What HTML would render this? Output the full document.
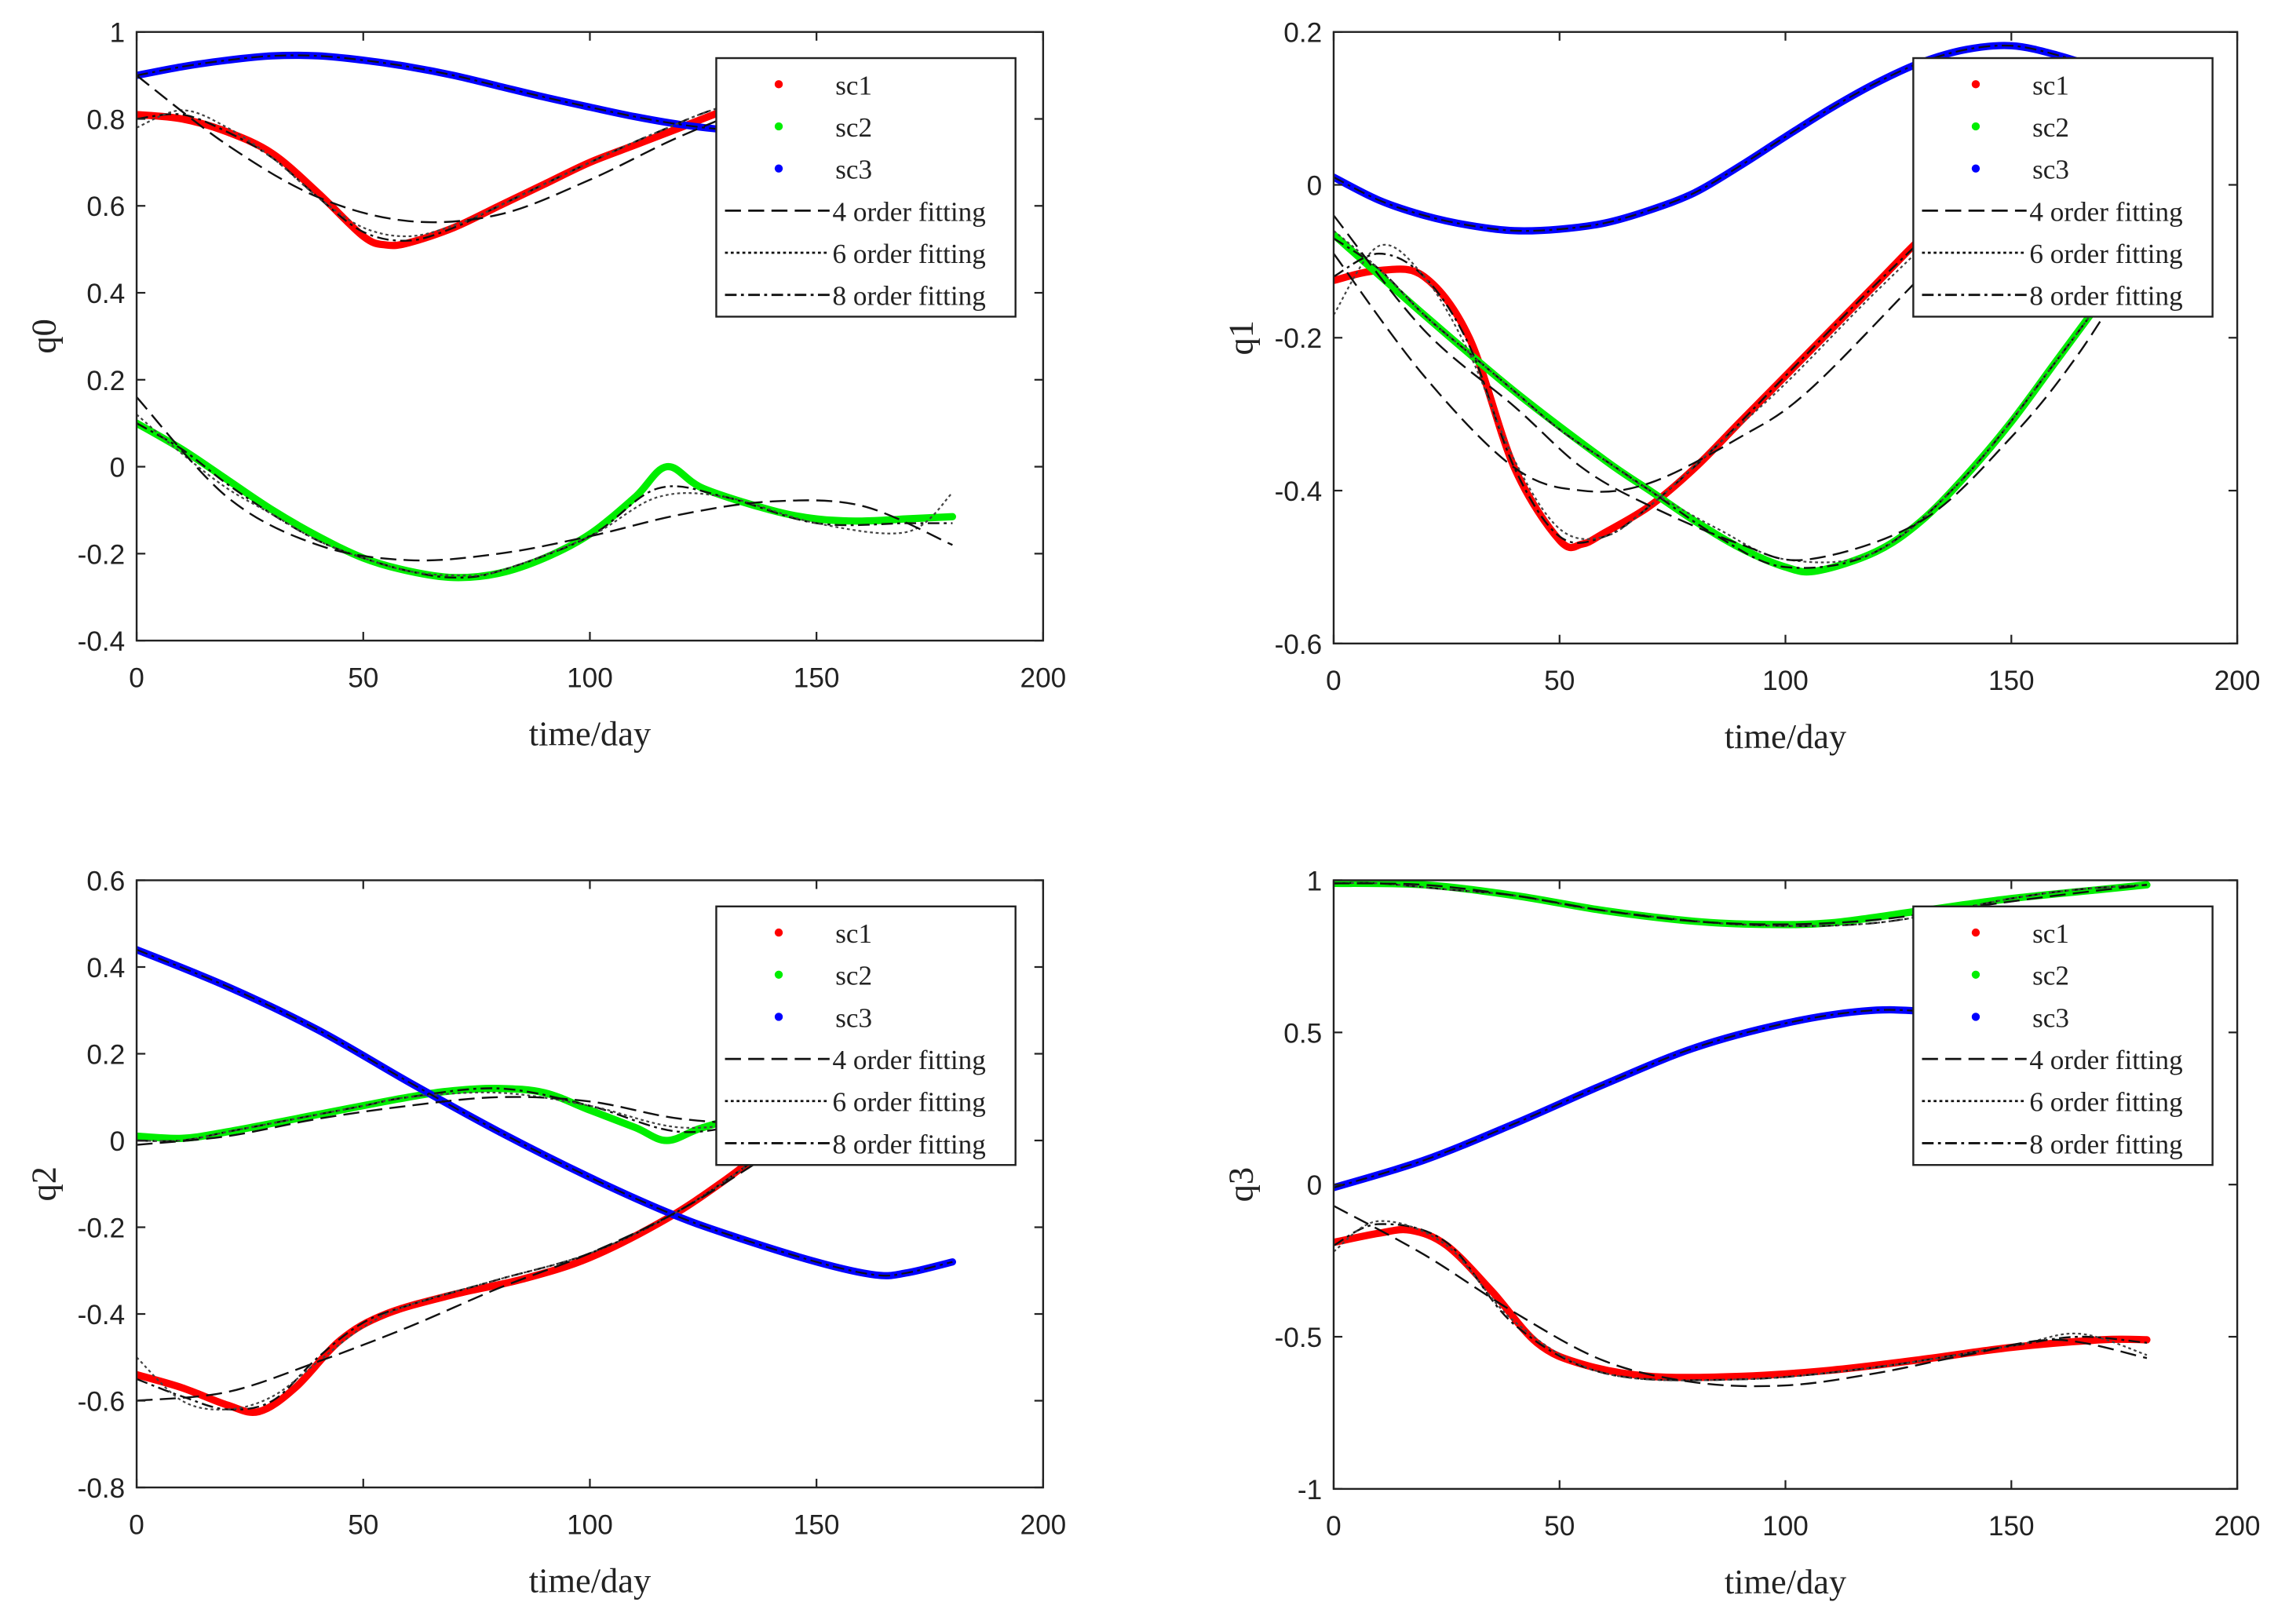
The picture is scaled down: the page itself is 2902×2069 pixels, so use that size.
<!DOCTYPE html>
<html><head><meta charset="utf-8"><style>
html,body{margin:0;padding:0;background:#fff}
svg{display:block}
.tick{font-family:"Liberation Sans",sans-serif;font-size:19px;fill:#222}
.lab{font-family:"Liberation Serif",serif;font-size:24px;fill:#222}
.leg{font-family:"Liberation Serif",serif;font-size:19px;fill:#222}
</style></head><body>
<svg id="fig" width="2902" height="2069" viewBox="0 0 1568 1118" xmlns="http://www.w3.org/2000/svg"></svg>
<script>
// ---- q0 data ----
const q0_sc1_t=[0,10,20,30,40,50,55,60,70,80,90,100,110,120,130,140,150,160,170,180];
const q0_sc1_v=[0.81,0.80,0.77,0.72,0.63,0.53,0.51,0.515,0.55,0.60,0.65,0.70,0.74,0.78,0.82,0.85,0.87,0.88,0.89,0.90];
const q0_sc2_t=[0,10,20,30,40,50,60,70,80,90,100,110,117,125,140,150,160,170,180];
const q0_sc2_v=[0.10,0.04,-0.03,-0.10,-0.16,-0.21,-0.24,-0.255,-0.245,-0.21,-0.155,-0.07,0.0,-0.05,-0.10,-0.12,-0.125,-0.12,-0.115];
const q0_sc3_t=[0,10,20,30,40,50,60,70,80,90,100,110,120,130,140,150,160,170,180];
const q0_sc3_v=[0.90,0.92,0.935,0.945,0.945,0.935,0.92,0.90,0.875,0.85,0.827,0.805,0.787,0.775,0.77,0.77,0.778,0.79,0.80];
const q0_f4_t=[0,20,40,60,80,100,120,140,160,180];
const q0_f4_sc1=[0.90,0.74,0.62,0.565,0.58,0.66,0.76,0.84,0.88,0.88];
const q0_f4_sc2=[0.16,-0.07,-0.18,-0.215,-0.20,-0.16,-0.11,-0.08,-0.09,-0.18];
const q0_f6_t=[0,10,20,30,40,50,60,70,80,100,115,130,150,170,180];
const q0_f6_sc1=[0.78,0.82,0.78,0.71,0.62,0.55,0.53,0.555,0.60,0.70,0.77,0.83,0.87,0.89,0.90];
const q0_f6_sc2=[0.12,0.03,-0.05,-0.11,-0.17,-0.21,-0.24,-0.25,-0.24,-0.16,-0.07,-0.07,-0.13,-0.15,-0.06];
const q0_f8_sc1=[0.80,0.81,0.77,0.71,0.62,0.54,0.52,0.55,0.60,0.70,0.77,0.83,0.87,0.89,0.90];
const q0_f8_sc2=[0.10,0.04,-0.04,-0.11,-0.17,-0.21,-0.24,-0.255,-0.24,-0.16,-0.05,-0.07,-0.13,-0.13,-0.13];
// ---- q1 data ----
const q1_sc1_t=[0,10,20,30,40,50,55,60,70,80,90,100,110,120,130,140,150,160,170,180];
const q1_sc1_v=[-0.125,-0.112,-0.12,-0.20,-0.37,-0.465,-0.47,-0.455,-0.42,-0.37,-0.31,-0.25,-0.19,-0.13,-0.07,-0.02,0.03,0.07,0.10,0.13];
const q1_sc2_t=[0,20,40,60,70,80,90,100,107,120,130,140,150,160,170,180];
const q1_sc2_v=[-0.065,-0.17,-0.27,-0.36,-0.40,-0.44,-0.475,-0.50,-0.505,-0.48,-0.44,-0.38,-0.31,-0.23,-0.15,-0.07];
const q1_sc3_t=[0,10,20,30,40,50,60,70,80,90,100,110,120,130,140,150,160,170,180];
const q1_sc3_v=[0.01,-0.02,-0.04,-0.053,-0.06,-0.058,-0.05,-0.033,-0.01,0.025,0.063,0.10,0.133,0.16,0.177,0.182,0.17,0.15,0.12];
const q1_f4_t=[0,20,40,55,70,90,105,130,150,165,180];
const q1_f4_sc1=[-0.09,-0.25,-0.37,-0.40,-0.39,-0.33,-0.27,-0.12,0.0,0.08,0.15];
const q1_f4_sc2=[-0.04,-0.19,-0.29,-0.37,-0.42,-0.47,-0.49,-0.44,-0.33,-0.22,-0.08];
const q1_f6_t=[0,10,20,30,40,50,60,70,85,100,120,140,160,180];
const q1_f6_sc1=[-0.17,-0.08,-0.12,-0.22,-0.36,-0.45,-0.46,-0.42,-0.34,-0.26,-0.14,-0.03,0.06,0.13];
const q1_f6_sc2=[-0.06,-0.11,-0.17,-0.22,-0.27,-0.32,-0.36,-0.40,-0.45,-0.49,-0.48,-0.38,-0.23,-0.07];
const q1_f8_sc1=[-0.12,-0.09,-0.12,-0.21,-0.37,-0.46,-0.46,-0.42,-0.34,-0.25,-0.13,-0.02,0.07,0.13];
const q1_f8_sc2=[-0.07,-0.11,-0.17,-0.22,-0.27,-0.32,-0.36,-0.40,-0.46,-0.50,-0.48,-0.38,-0.23,-0.07];
// ---- q2 data ----
const q2_sc1_t=[0,10,20,27,35,45,55,70,85,100,117,130,140,150,165,180];
const q2_sc1_v=[-0.54,-0.57,-0.61,-0.625,-0.57,-0.46,-0.40,-0.355,-0.32,-0.27,-0.18,-0.09,-0.01,0.06,0.15,0.22];
const q2_sc2_t=[0,10,20,40,60,70,80,90,100,110,117,125,140,160,180];
const q2_sc2_v=[0.01,0.005,0.02,0.06,0.10,0.115,0.12,0.11,0.07,0.03,0.0,0.03,0.07,0.09,0.10];
const q2_sc3_t=[0,20,40,60,80,100,117,130,150,163,170,180];
const q2_sc3_v=[0.44,0.355,0.255,0.135,0.02,-0.085,-0.165,-0.215,-0.28,-0.31,-0.305,-0.28];
const q2_f4_t=[0,20,40,60,80,100,120,140,160,180];
const q2_f4_sc1=[-0.60,-0.58,-0.51,-0.43,-0.34,-0.26,-0.16,-0.03,0.10,0.22];
const q2_f4_sc2=[-0.01,0.01,0.05,0.08,0.10,0.09,0.05,0.04,0.06,0.10];
const q2_f6_t=[0,10,20,30,40,50,60,80,100,120,140,160,180];
const q2_f6_sc1=[-0.50,-0.60,-0.62,-0.59,-0.51,-0.43,-0.38,-0.32,-0.26,-0.16,-0.02,0.11,0.22];
const q2_f6_sc2=[0.0,0.0,0.02,0.04,0.06,0.08,0.10,0.11,0.08,0.03,0.05,0.08,0.10];
const q2_f8_sc1=[-0.55,-0.59,-0.62,-0.60,-0.50,-0.42,-0.38,-0.32,-0.26,-0.16,-0.02,0.11,0.22];
const q2_f8_sc2=[0.0,0.0,0.02,0.04,0.06,0.08,0.10,0.12,0.08,0.02,0.05,0.08,0.10];
// ---- q3 data ----
const q3_sc1_t=[0,10,17,25,35,45,55,70,90,110,130,150,170,180];
const q3_sc1_v=[-0.19,-0.16,-0.15,-0.20,-0.35,-0.52,-0.59,-0.63,-0.63,-0.61,-0.575,-0.535,-0.51,-0.51];
const q3_sc2_t=[0,20,40,60,80,95,110,130,150,170,180];
const q3_sc2_v=[0.99,0.985,0.95,0.90,0.865,0.855,0.86,0.90,0.94,0.97,0.985];
const q3_sc3_t=[0,20,40,60,80,100,117,130,150,180];
const q3_sc3_v=[-0.01,0.08,0.20,0.33,0.45,0.53,0.57,0.57,0.54,0.45];
const q3_f4_t=[0,20,40,60,80,100,120,140,160,180];
const q3_f4_sc1=[-0.07,-0.23,-0.42,-0.58,-0.65,-0.66,-0.62,-0.56,-0.51,-0.57];
const q3_f4_sc2=[0.99,0.985,0.95,0.90,0.865,0.855,0.87,0.91,0.95,0.985];
const q3_f6_t=[0,10,25,40,60,90,120,150,165,180];
const q3_f6_sc1=[-0.22,-0.12,-0.20,-0.45,-0.62,-0.64,-0.60,-0.53,-0.49,-0.56];
const q3_f6_sc2=[0.99,0.99,0.97,0.95,0.90,0.855,0.86,0.94,0.97,0.985];
const q3_f8_sc1=[-0.20,-0.13,-0.19,-0.46,-0.62,-0.64,-0.60,-0.53,-0.50,-0.52];
const q3_f8_sc2=[0.99,0.99,0.97,0.95,0.90,0.855,0.86,0.94,0.97,0.985];
// ---- ticks ----
const xTicks=[0,50,100,150,200];
const q0_yTicks=[-0.4,-0.2,0,0.2,0.4,0.6,0.8,1];
const q1_yTicks=[-0.6,-0.4,-0.2,0,0.2];
const q2_yTicks=[-0.8,-0.6,-0.4,-0.2,0,0.2,0.4,0.6];
const q3_yTicks=[-1,-0.5,0,0.5,1];

const NS="http://www.w3.org/2000/svg";
const svg=document.getElementById('fig');
function mk(tag,attrs,parent){const e=document.createElementNS(NS,tag);for(const k in attrs)e.setAttribute(k,attrs[k]);(parent||svg).appendChild(e);return e;}
function pathFrom(pts){
  let d='M'+pts[0][0].toFixed(2)+','+pts[0][1].toFixed(2);
  for(let i=0;i<pts.length-1;i++){
    const p0=pts[Math.max(0,i-1)],p1=pts[i],p2=pts[i+1],p3=pts[Math.min(pts.length-1,i+2)];
    const c1=[p1[0]+(p2[0]-p0[0])/6,p1[1]+(p2[1]-p0[1])/6];
    const c2=[p2[0]-(p3[0]-p1[0])/6,p2[1]-(p3[1]-p1[1])/6];
    d+=' C'+c1.map(v=>v.toFixed(2)).join(',')+' '+c2.map(v=>v.toFixed(2)).join(',')+' '+p2[0].toFixed(2)+','+p2[1].toFixed(2);
  }
  return d;
}
function fmt(v){return String(Math.round(v*10)/10);}
function panel(cfg){
  const g=mk('g',{});
  
  
  const X=t=>cfg.L+(t-0)/(200)*(cfg.R-cfg.L);
  const Y=v=>cfg.B-(v-cfg.ymin)/(cfg.ymax-cfg.ymin)*(cfg.B-cfg.T);
  const clip='clip-'+cfg.name;
  const cp=mk('clipPath',{id:clip},g);mk('rect',{x:cfg.L,y:cfg.T,width:cfg.R-cfg.L,height:cfg.B-cfg.T},cp);
  const plot=mk('g',{'clip-path':'url(#'+clip+')'},g);
  
  
  const line=(t,v,style,nm)=>{const p=mk('path',Object.assign({d:pathFrom(t.map((tt,i)=>[X(tt),Y(v[i])])),fill:'none'},style),plot);
    
    };
  cfg.data.forEach(s=>line(s[0],s[1],{stroke:s[2],'stroke-width':5,'stroke-linecap':'round','stroke-linejoin':'round'},s[3]));
  cfg.f8.forEach(s=>line(s[0],s[1],{stroke:'#111','stroke-width':1.3,'stroke-dasharray':'8 3 2 3'},s[2]));
  cfg.f6.forEach(s=>line(s[0],s[1],{stroke:'#444','stroke-width':1.2,'stroke-dasharray':'2 2'},s[2]));
  cfg.f4.forEach(s=>line(s[0],s[1],{stroke:'#111','stroke-width':1.3,'stroke-dasharray':'11 5'},s[2]));
  const s3=cfg.data[2];line(s3[0],s3[1],{stroke:'#111','stroke-width':1.2,'stroke-dasharray':'8 3 2 3'},cfg.name+'-sc3-fit');
  const box=mk('rect',{x:cfg.L,y:cfg.T,width:cfg.R-cfg.L,height:cfg.B-cfg.T,fill:'none',stroke:'#222','stroke-width':1.3},g);
  
  
  xTicks.forEach(t=>{const x=X(t);
    mk('line',{x1:x,x2:x,y1:cfg.B,y2:cfg.B-6,stroke:'#222','stroke-width':1.2},g);
    mk('line',{x1:x,x2:x,y1:cfg.T,y2:cfg.T+6,stroke:'#222','stroke-width':1.2},g);
    const tx=mk('text',{x:x,y:cfg.B+32,'text-anchor':'middle',class:'tick'},g);tx.textContent=String(t);
    
    });
  cfg.yTicks.forEach(v=>{const y=Y(v);
    mk('line',{x1:cfg.L,x2:cfg.L+6,y1:y,y2:y,stroke:'#222','stroke-width':1.2},g);
    mk('line',{x1:cfg.R,x2:cfg.R-6,y1:y,y2:y,stroke:'#222','stroke-width':1.2},g);
    const tx=mk('text',{x:cfg.L-8,y:y+7,'text-anchor':'end',class:'tick'},g);tx.textContent=fmt(v);
    
    });
  const xl=mk('text',{x:(cfg.L+cfg.R)/2,y:cfg.B+72,'text-anchor':'middle',class:'lab'},g);xl.textContent='time/day';
  
  
  const yl=mk('text',{x:0,y:0,'text-anchor':'middle',class:'lab',transform:'translate('+(cfg.L-56)+','+((cfg.T+cfg.B)/2)+') rotate(-90)'},g);yl.textContent=cfg.name;
  
  
  const lx=cfg.L+399,ly=cfg.T+18;
  const lg=mk('g',{},g);
  
  
  mk('rect',{x:lx,y:ly,width:206,height:178,fill:'#fff',stroke:'#222','stroke-width':1.3},lg);
  const rows=[['sc1','#f00','dot'],['sc2','#0e0','dot'],['sc3','#00f','dot'],['4 order fitting','11 5','line'],['6 order fitting','2 2','line'],['8 order fitting','8 3 2 3','line']];
  rows.forEach((r,i)=>{const y=ly+18+i*29;
    const e=mk('g',{},lg);
    
    
    if(r[2]==='dot'){mk('circle',{cx:lx+43,cy:y,r:2.8,fill:r[1]},e);
      const t=mk('text',{x:lx+82,y:y+7,class:'leg'},e);t.textContent=r[0];}
    else{mk('line',{x1:lx+6,x2:lx+78,y1:y,y2:y,stroke:'#111','stroke-width':1.5,'stroke-dasharray':r[1]},e);
      const t=mk('text',{x:lx+80,y:y+7,class:'leg'},e);t.textContent=r[0];}
  });
}
panel({name:'q0',L:94,R:718,T:22,B:441,ymin:-0.4,ymax:1,yTicks:q0_yTicks,
  data:[[q0_sc1_t,q0_sc1_v,'#f00','q0-sc1-line'],[q0_sc2_t,q0_sc2_v,'#0e0','q0-sc2-line'],[q0_sc3_t,q0_sc3_v,'#00f','q0-sc3-line']],
  f4:[[q0_f4_t,q0_f4_sc1,'q0-sc1-fit4'],[q0_f4_t,q0_f4_sc2,'q0-sc2-fit4']],
  f6:[[q0_f6_t,q0_f6_sc1,'q0-sc1-fit6'],[q0_f6_t,q0_f6_sc2,'q0-sc2-fit6']],
  f8:[[q0_f6_t,q0_f8_sc1,'q0-sc1-fit8'],[q0_f6_t,q0_f8_sc2,'q0-sc2-fit8']]});
panel({name:'q1',L:918,R:1540,T:22,B:443,ymin:-0.6,ymax:0.2,yTicks:q1_yTicks,
  data:[[q1_sc1_t,q1_sc1_v,'#f00','q1-sc1-line'],[q1_sc2_t,q1_sc2_v,'#0e0','q1-sc2-line'],[q1_sc3_t,q1_sc3_v,'#00f','q1-sc3-line']],
  f4:[[q1_f4_t,q1_f4_sc1,'q1-sc1-fit4'],[q1_f4_t,q1_f4_sc2,'q1-sc2-fit4']],
  f6:[[q1_f6_t,q1_f6_sc1,'q1-sc1-fit6'],[q1_f6_t,q1_f6_sc2,'q1-sc2-fit6']],
  f8:[[q1_f6_t,q1_f8_sc1,'q1-sc1-fit8'],[q1_f6_t,q1_f8_sc2,'q1-sc2-fit8']]});
panel({name:'q2',L:94,R:718,T:606,B:1024,ymin:-0.8,ymax:0.6,yTicks:q2_yTicks,
  data:[[q2_sc1_t,q2_sc1_v,'#f00','q2-sc1-line'],[q2_sc2_t,q2_sc2_v,'#0e0','q2-sc2-line'],[q2_sc3_t,q2_sc3_v,'#00f','q2-sc3-line']],
  f4:[[q2_f4_t,q2_f4_sc1,'q2-sc1-fit4'],[q2_f4_t,q2_f4_sc2,'q2-sc2-fit4']],
  f6:[[q2_f6_t,q2_f6_sc1,'q2-sc1-fit6'],[q2_f6_t,q2_f6_sc2,'q2-sc2-fit6']],
  f8:[[q2_f6_t,q2_f8_sc1,'q2-sc1-fit8'],[q2_f6_t,q2_f8_sc2,'q2-sc2-fit8']]});
panel({name:'q3',L:918,R:1540,T:606,B:1025,ymin:-1,ymax:1,yTicks:q3_yTicks,
  data:[[q3_sc1_t,q3_sc1_v,'#f00','q3-sc1-line'],[q3_sc2_t,q3_sc2_v,'#0e0','q3-sc2-line'],[q3_sc3_t,q3_sc3_v,'#00f','q3-sc3-line']],
  f4:[[q3_f4_t,q3_f4_sc1,'q3-sc1-fit4'],[q3_f4_t,q3_f4_sc2,'q3-sc2-fit4']],
  f6:[[q3_f6_t,q3_f6_sc1,'q3-sc1-fit6'],[q3_f6_t,q3_f6_sc2,'q3-sc2-fit6']],
  f8:[[q3_f6_t,q3_f8_sc1,'q3-sc1-fit8'],[q3_f6_t,q3_f8_sc2,'q3-sc2-fit8']]});
</script>
</body></html>
